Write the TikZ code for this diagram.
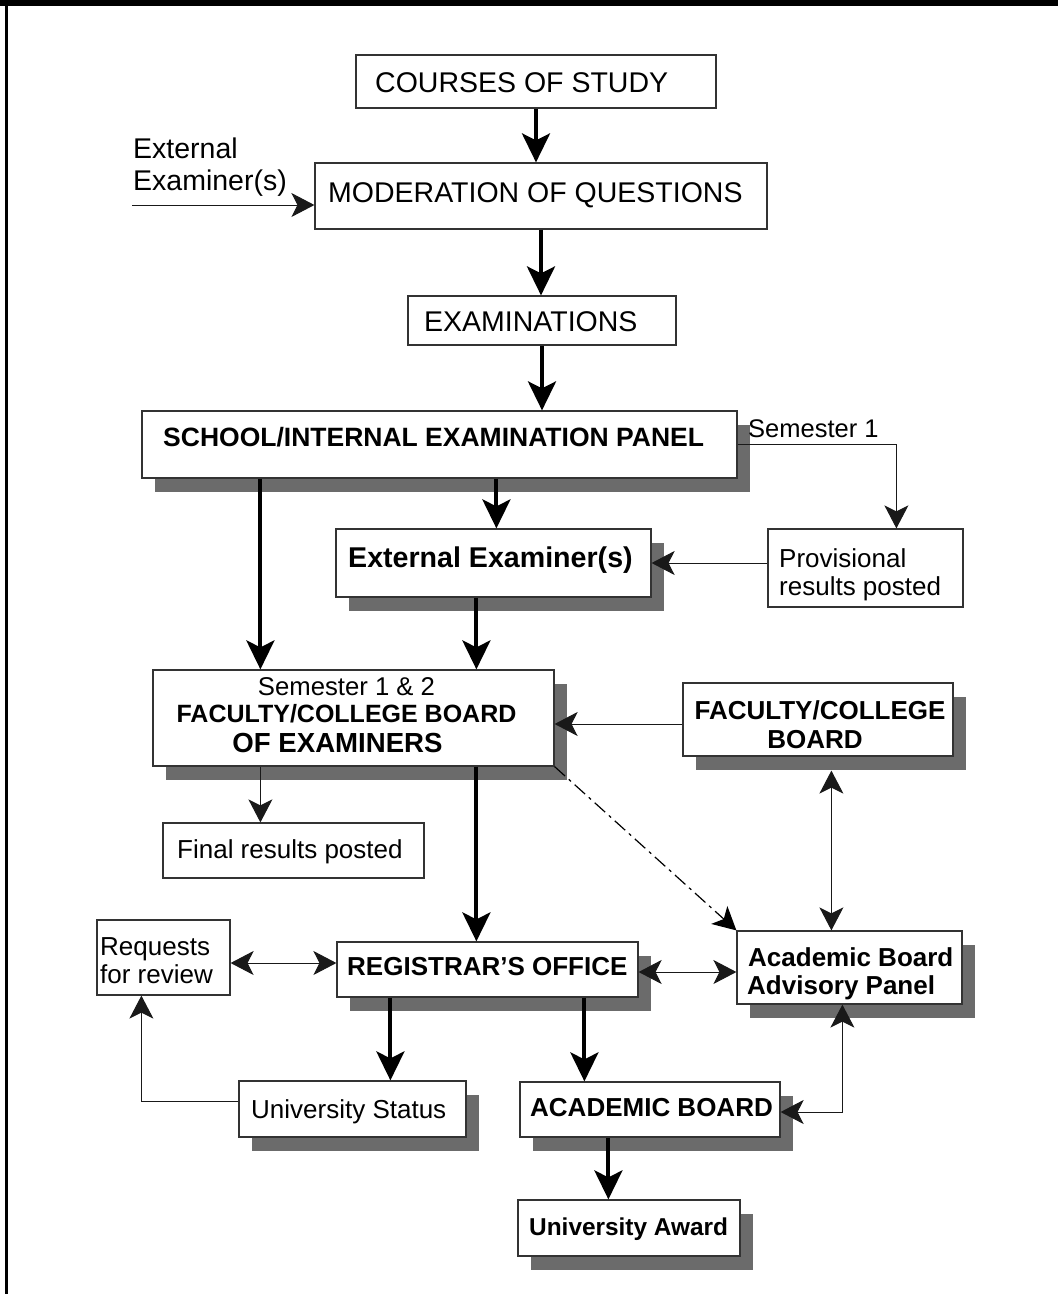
\documentclass[tikz,border=0pt]{standalone}
\usepackage{fontspec}
\setmainfont{Liberation Sans}
\usetikzlibrary{arrows.meta,calc,shadows}
\begin{document}
\begin{tikzpicture}[x=1pt,y=-1pt,
  box/.style={draw=black!80, line width=1.2pt, fill=white, inner sep=0pt, rectangle},
  sbox/.style={box, drop shadow={shadow xshift=13pt, shadow yshift=-14pt, fill=black!58, opacity=1}},
  txt/.style={inner sep=0pt, anchor=base west, font=\fontsize{26}{29}\selectfont},
  txtL/.style={txt, font=\fontsize{28.5}{32}\selectfont},
  btxt/.style={txt, font=\bfseries\fontsize{26}{29}\selectfont},
  thk/.style={line width=4pt, -{Stealth[length=29pt,width=28pt,inset=7pt]}},
  thn/.style={line width=1pt, draw=black!90, -{Stealth[length=23pt,width=24pt,inset=6pt]}},
  thnb/.style={line width=1pt, draw=black!90, {Stealth[length=23pt,width=24pt,inset=6pt]}-{Stealth[length=23pt,width=24pt,inset=6pt]}},
  dsh/.style={line width=1.2pt, dash pattern=on 14pt off 5pt on 3pt off 5pt, -{Stealth[length=23pt,width=24pt,inset=6pt]}}
]
\useasboundingbox (0,0) rectangle (1058,1294);
\fill[white] (0,0) rectangle (1058,1294);
% frame
\fill[black] (0,0) rectangle (1058,6);
\fill[black] (5,0) rectangle (8,1294);

% boxes
\node[box, minimum width=360pt, minimum height=53pt] (courses) at (536,81.5) {};
\node[box, minimum width=452pt, minimum height=66pt] (moder) at (541,196) {};
\node[box, minimum width=268pt, minimum height=49pt] (exams) at (542,320.5) {};
\node[sbox, minimum width=595pt, minimum height=67pt] (school) at (439.5,444.5) {};
\node[sbox, minimum width=315pt, minimum height=68pt] (extb) at (493.5,563) {};
\node[box, minimum width=195pt, minimum height=78pt] (prov) at (865.5,568) {};
\node[sbox, minimum width=401pt, minimum height=96pt] (fb) at (353.5,718) {};
\node[sbox, minimum width=270pt, minimum height=73pt] (fcb) at (818,719.5) {};
\node[box, minimum width=261pt, minimum height=55pt] (final) at (293.5,850.5) {};
\node[box, minimum width=133pt, minimum height=75pt] (req) at (163.5,957.5) {};
\node[sbox, minimum width=301pt, minimum height=55pt] (reg) at (487.5,969.5) {};
\node[sbox, minimum width=225pt, minimum height=73pt] (abap) at (849.5,967.5) {};
\node[sbox, minimum width=227pt, minimum height=56pt] (ustat) at (352.5,1109) {};
\node[sbox, minimum width=260pt, minimum height=55pt] (acb) at (650,1109.5) {};
\node[sbox, minimum width=222pt, minimum height=56pt] (uaward) at (629,1228) {};

% texts
\node[txtL] (courses-t) at (375,92) {COURSES OF STUDY};
\node[txtL] (extl-1) at (133,158) {External};
\node[txtL] (extl-2) at (133,190) {Examiner(s)};
\node[txtL] (moder-t) at (328,202) {MODERATION OF QUESTIONS};
\node[txtL] (exams-t) at (424,331) {EXAMINATIONS};
\node[btxt, font=\bfseries\fontsize{26.5}{29}\selectfont] (school-t) at (163,446) {SCHOOL/INTERNAL EXAMINATION PANEL};
\node[txt, font=\fontsize{25.5}{29}\selectfont] (sem1) at (748,437) {Semester 1};
\node[btxt, font=\bfseries\fontsize{28.6}{32}\selectfont] (extb-t) at (348,567) {External Examiner(s)};
\node[txt] (prov-1) at (779,567) {Provisional};
\node[txt] (prov-2) at (779,595) {results posted};
\node[txt, anchor=base, font=\fontsize{25.7}{29}\selectfont] (fb-1) at (346.5,695) {Semester 1 \& 2};
\node[btxt, anchor=base, font=\bfseries\fontsize{25}{29}\selectfont] (fb-2) at (346.5,722) {FACULTY/COLLEGE BOARD};
\node[btxt, anchor=base, font=\bfseries\fontsize{27.6}{29}\selectfont] (fb-3) at (337.5,752) {OF EXAMINERS};
\node[btxt, anchor=base] (fcb-1) at (820,719) {FACULTY/COLLEGE};
\node[btxt, anchor=base] (fcb-2) at (815,748) {BOARD};
\node[txt] (final-t) at (177,858) {Final results posted};
\node[txt] (req-1) at (100,955) {Requests};
\node[txt] (req-2) at (100,983) {for review};
\node[btxt] (reg-t) at (347,975) {REGISTRAR’S OFFICE};
\node[btxt] (abap-1) at (748,966) {Academic Board};
\node[btxt] (abap-2) at (747,994) {Advisory Panel};
\node[txt] (ustat-t) at (251,1118) {University Status};
\node[btxt] (acb-t) at (530,1116) {ACADEMIC BOARD};
\node[btxt, font=\bfseries\fontsize{24.4}{28}\selectfont] (uaward-t) at (529,1235) {University Award};

% connector anchor points
\coordinate (extin) at (132,205);
\coordinate (c-se) at ($(extb.north west)+(161,0)$);
\coordinate (c-sf) at ($(school.south west)+(119,0)$);
\coordinate (c-sp) at ($(prov.north west)+(129,0)$);
\coordinate (c-pe) at ($(prov.west)+(0,-5)$);
\coordinate (c-ef) at ($(extb.south west)+(141,0)$);
\coordinate (c-cf) at ($(fcb.west)+(0,4.5)$);
\coordinate (c-ff) at ($(fb.south west)+(108,0)$);
\coordinate (c-fr) at ($(fb.south west)+(324,0)$);
\coordinate (c-ca) at ($(fcb.south west)+(149,14)$);
\coordinate (c-rq) at ($(req.east)+(0,5.5)$);
\coordinate (c-ra) at ($(reg.east)+(0,2.5)$);
\coordinate (c-ru) at ($(reg.south west)+(54,0)$);
\coordinate (c-rb) at ($(reg.south west)+(248,0)$);
\coordinate (c-ur) at ($(ustat.west)+(0,-8)$);
\coordinate (c-rqb) at ($(req.south west)+(45,0)$);
\coordinate (c-ba) at ($(acb.east)+(0,2.5)$);
\coordinate (c-abb) at ($(abap.south west)+(106,0)$);
\coordinate (c-bu) at ($(acb.south west)+(89,0)$);

% connectors
\draw[thk] (courses.south) -- (courses.south |- moder.north);
\draw[thk] (moder.south) -- (moder.south |- exams.north);
\draw[thk] (exams.south) -- (exams.south |- school.north);
\draw[thn] (extin) -- (extin -| moder.west);
\draw[thk] (c-se |- school.south) -- (c-se);
\draw[thk] (c-sf) -- (c-sf |- fb.north);
\draw[thn] (school.east) -| (c-sp);
\draw[thn] (c-pe) -- (c-pe -| extb.east);
\draw[thk] (c-ef) -- (c-ef |- fb.north);
\draw[thn] (c-cf) -- (c-cf -| fb.east);
\draw[thn] (c-ff) -- (c-ff |- final.north);
\draw[thk] (c-fr) -- (c-fr |- reg.north);
\draw[dsh] (fb.south east) -- (abap.north west);
\draw[thnb] (c-ca) -- (c-ca |- abap.north);
\draw[thnb] (c-rq) -- (c-rq -| reg.west);
\draw[thnb] (c-ra) -- (c-ra -| abap.west);
\draw[thk] (c-ru) -- (c-ru |- ustat.north);
\draw[thk] (c-rb) -- (c-rb |- acb.north);
\draw[thn] (c-ur) -| (c-rqb);
\draw[thnb] (c-ba) -| (c-abb);
\draw[thk] (c-bu) -- (c-bu |- uaward.north);
\end{tikzpicture}
\end{document}
